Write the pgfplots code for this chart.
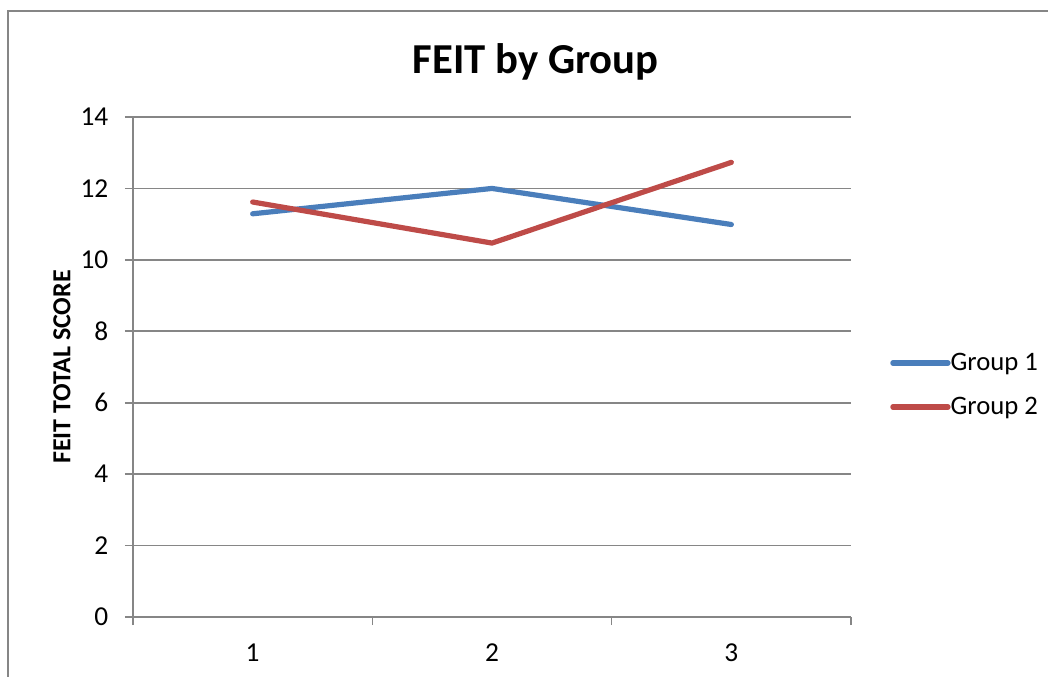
\documentclass[border=0pt]{standalone}
\usepackage{pgfplots}
\pgfplotsset{compat=1.18}
\usepackage{fontspec}
\setmainfont{Carlito}
\definecolor{gridgray}{HTML}{868686}
\definecolor{g1blue}{HTML}{4A7EBB}
\definecolor{g2red}{HTML}{BE4B48}
\begin{document}
\begin{tikzpicture}
\useasboundingbox (0,0) rectangle (786pt,-507pt);
\draw[gridgray, line width=1.2pt] (6pt,-510pt) -- (6pt,-8.25pt) -- (790pt,-8.25pt);
\begin{axis}[
  at={(99.75pt,-87.75pt)}, anchor=north west,
  scale only axis, width=538.5pt, height=375pt,
  xmin=0.5, xmax=3.5, ymin=0, ymax=14,
  xtick={1,2,3}, ytick={0,2,...,14},
  minor xtick={0.5,1.5,2.5,3.5},
  axis lines*=left,
  axis line style={gridgray, line width=1.2pt},
  tick align=outside, tick pos=left,
  major tick length=6pt, minor tick length=6pt,
  every tick/.style={gridgray, line width=1.2pt},
  x tick style={draw=none},
  minor x tick style={draw=gridgray, line width=1.2pt},
  ymajorgrids, major grid style={gridgray, line width=1.2pt},
  /pgf/number format/assume math mode=true,
  ticklabel style={font=\fontsize{20.5}{24}\selectfont},
  xticklabel style={anchor=center, yshift=-21pt},
  yticklabel style={anchor=east, xshift=-9pt},
  title={\textbf{FEIT by Group}},
  every axis title/.style={at={(axis description cs:0.561,1.11)}, anchor=center, font=\fontsize{32}{38}\selectfont},
  ylabel={\textbf{FEIT TOTAL SCORE}},
  every axis y label/.style={at={(axis description cs:-0.0989,0.5)}, rotate=90, anchor=center, font=\fontsize{19.5}{23}\selectfont},
  legend style={draw=none, fill=none, at={(1.0543,0.464)}, anchor=west, inner sep=0pt,
    row sep=18.5pt, font=\fontsize{20}{24}\selectfont, nodes={inner sep=0pt}},
  legend image code/.code={\draw[#1, line width=4pt, line cap=round] (0pt,0pt) -- (41.25pt,0pt);},
  legend cell align=left,
]
\addplot[g1blue, line width=3.9pt, line cap=round, line join=round] coordinates {(1,11.29) (2,12.0) (3,10.99)};
\addlegendentry{Group 1}
\addplot[g2red, line width=3.9pt, line cap=round, line join=round] coordinates {(1,11.62) (2,10.47) (3,12.73)};
\addlegendentry{Group 2}
\end{axis}
\end{tikzpicture}
\end{document}
